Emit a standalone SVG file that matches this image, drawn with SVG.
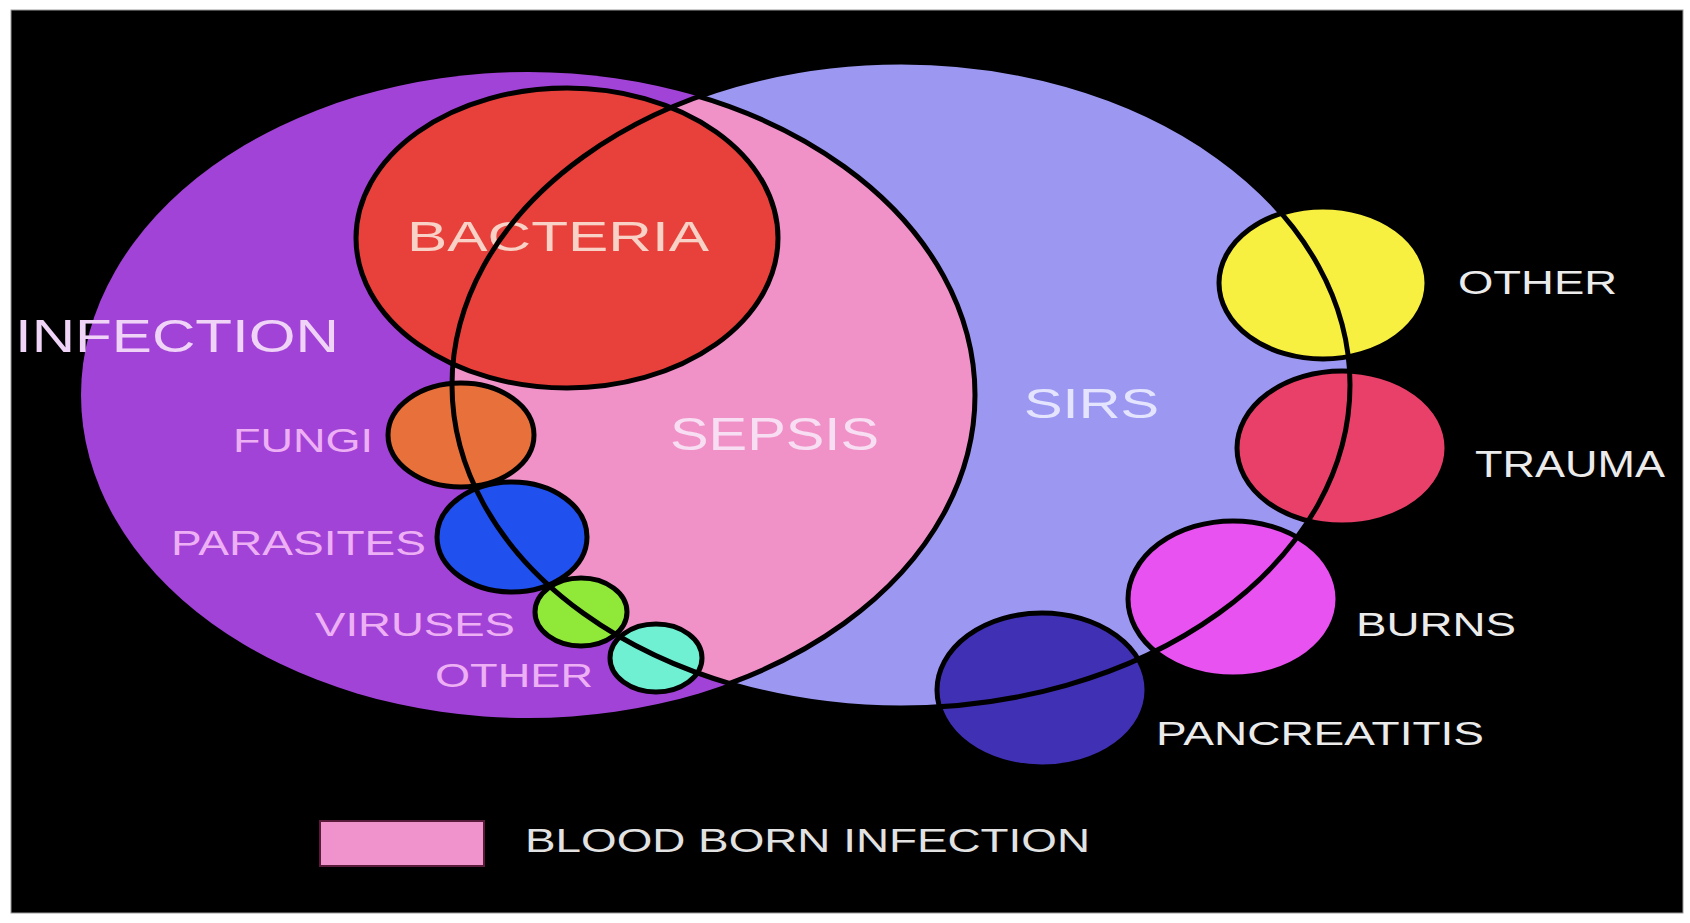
<svg xmlns="http://www.w3.org/2000/svg" width="1690" height="923" viewBox="0 0 1690 923">
<style>
  .lbl { font-family: "Liberation Sans", Arial, sans-serif; }
  .ol { stroke: #000; stroke-width: 5; }
  .edge { fill: none; stroke: #000; stroke-width: 5; }
  .side { fill: #eeb0f4; }
  .right { fill: #ebebeb; }
</style>
<defs>
  <clipPath id="sirsClip">
    <ellipse cx="901" cy="385" rx="449" ry="323"/>
  </clipPath>
</defs>
<rect x="0" y="0" width="1690" height="923" fill="#ffffff"/>
<rect x="11" y="10" width="1672" height="903" fill="#000000" stroke="#9a9a9a" stroke-width="1"/>

<g id="infection">
  <ellipse cx="528" cy="395" rx="447" ry="323" fill="#a243d8"/>
  <text class="lbl" x="15" y="352" font-size="47" textLength="324" lengthAdjust="spacingAndGlyphs" fill="#f0d4f8">INFECTION</text>
</g>
<g id="sirs">
  <ellipse cx="901" cy="385" rx="449" ry="323" fill="#9c98f2"/>
  <text class="lbl" x="1024" y="418" font-size="43" textLength="135" lengthAdjust="spacingAndGlyphs" fill="#e4e4ff">SIRS</text>
</g>
<g id="sepsis">
  <ellipse cx="528" cy="395" rx="447" ry="323" fill="#f092c8" clip-path="url(#sirsClip)"/>
  <text class="lbl" x="670" y="450" font-size="47" textLength="209" lengthAdjust="spacingAndGlyphs" fill="#f8def2">SEPSIS</text>
</g>

<g id="connectors">
  <ellipse class="edge" cx="528" cy="395" rx="447" ry="323" clip-path="url(#sirsClip)"/>
</g>

<g id="bacteria">
  <ellipse class="ol" cx="567" cy="238" rx="211" ry="150" fill="#e8403a"/>
  <text class="lbl" x="407" y="251" font-size="42" textLength="302" lengthAdjust="spacingAndGlyphs" fill="#f8d2c6">BACTERIA</text>
</g>
<g id="fungi">
  <ellipse class="ol" cx="461" cy="435" rx="73" ry="52" fill="#e8703a"/>
  <text class="lbl side" x="233" y="452" font-size="33.5" textLength="140" lengthAdjust="spacingAndGlyphs">FUNGI</text>
</g>
<g id="parasites">
  <ellipse class="ol" cx="512" cy="537" rx="75" ry="55" fill="#2050ee"/>
  <text class="lbl side" x="171" y="555" font-size="35" textLength="255" lengthAdjust="spacingAndGlyphs">PARASITES</text>
</g>
<g id="viruses">
  <ellipse class="ol" cx="581" cy="612" rx="46" ry="34" fill="#90e838"/>
  <text class="lbl side" x="315" y="636" font-size="33.5" textLength="200" lengthAdjust="spacingAndGlyphs">VIRUSES</text>
</g>
<g id="other-infection">
  <ellipse class="ol" cx="656" cy="658" rx="46" ry="34" fill="#70f0d2"/>
  <text class="lbl side" x="435" y="687" font-size="33.5" textLength="158" lengthAdjust="spacingAndGlyphs">OTHER</text>
</g>

<g id="other-sirs">
  <ellipse class="ol" cx="1323" cy="283" rx="104" ry="76" fill="#f8f040"/>
  <text class="lbl right" x="1458" y="294" font-size="33.5" textLength="159" lengthAdjust="spacingAndGlyphs">OTHER</text>
</g>
<g id="trauma">
  <ellipse class="ol" cx="1342" cy="448" rx="105" ry="77" fill="#e84068"/>
  <text class="lbl right" x="1475" y="477" font-size="36" textLength="190" lengthAdjust="spacingAndGlyphs">TRAUMA</text>
</g>
<g id="burns">
  <ellipse class="ol" cx="1233" cy="599" rx="105" ry="78" fill="#e852f0"/>
  <text class="lbl right" x="1356" y="636" font-size="33.5" textLength="160" lengthAdjust="spacingAndGlyphs">BURNS</text>
</g>
<g id="pancreatitis">
  <ellipse class="ol" cx="1042" cy="690" rx="105" ry="77" fill="#4030b4"/>
  <text class="lbl right" x="1156" y="745" font-size="33" textLength="328" lengthAdjust="spacingAndGlyphs">PANCREATITIS</text>
</g>

<g id="sirs-boundary">
  <ellipse class="edge" cx="901" cy="385" rx="449" ry="323"/>
</g>

<g id="legend">
  <rect x="320" y="821" width="164" height="45" fill="#f092cc" stroke="#5a1a3a" stroke-width="2"/>
  <text class="lbl" x="525" y="852" font-size="33.5" textLength="565" lengthAdjust="spacingAndGlyphs" fill="#e2e2e2">BLOOD BORN INFECTION</text>
</g>
</svg>
